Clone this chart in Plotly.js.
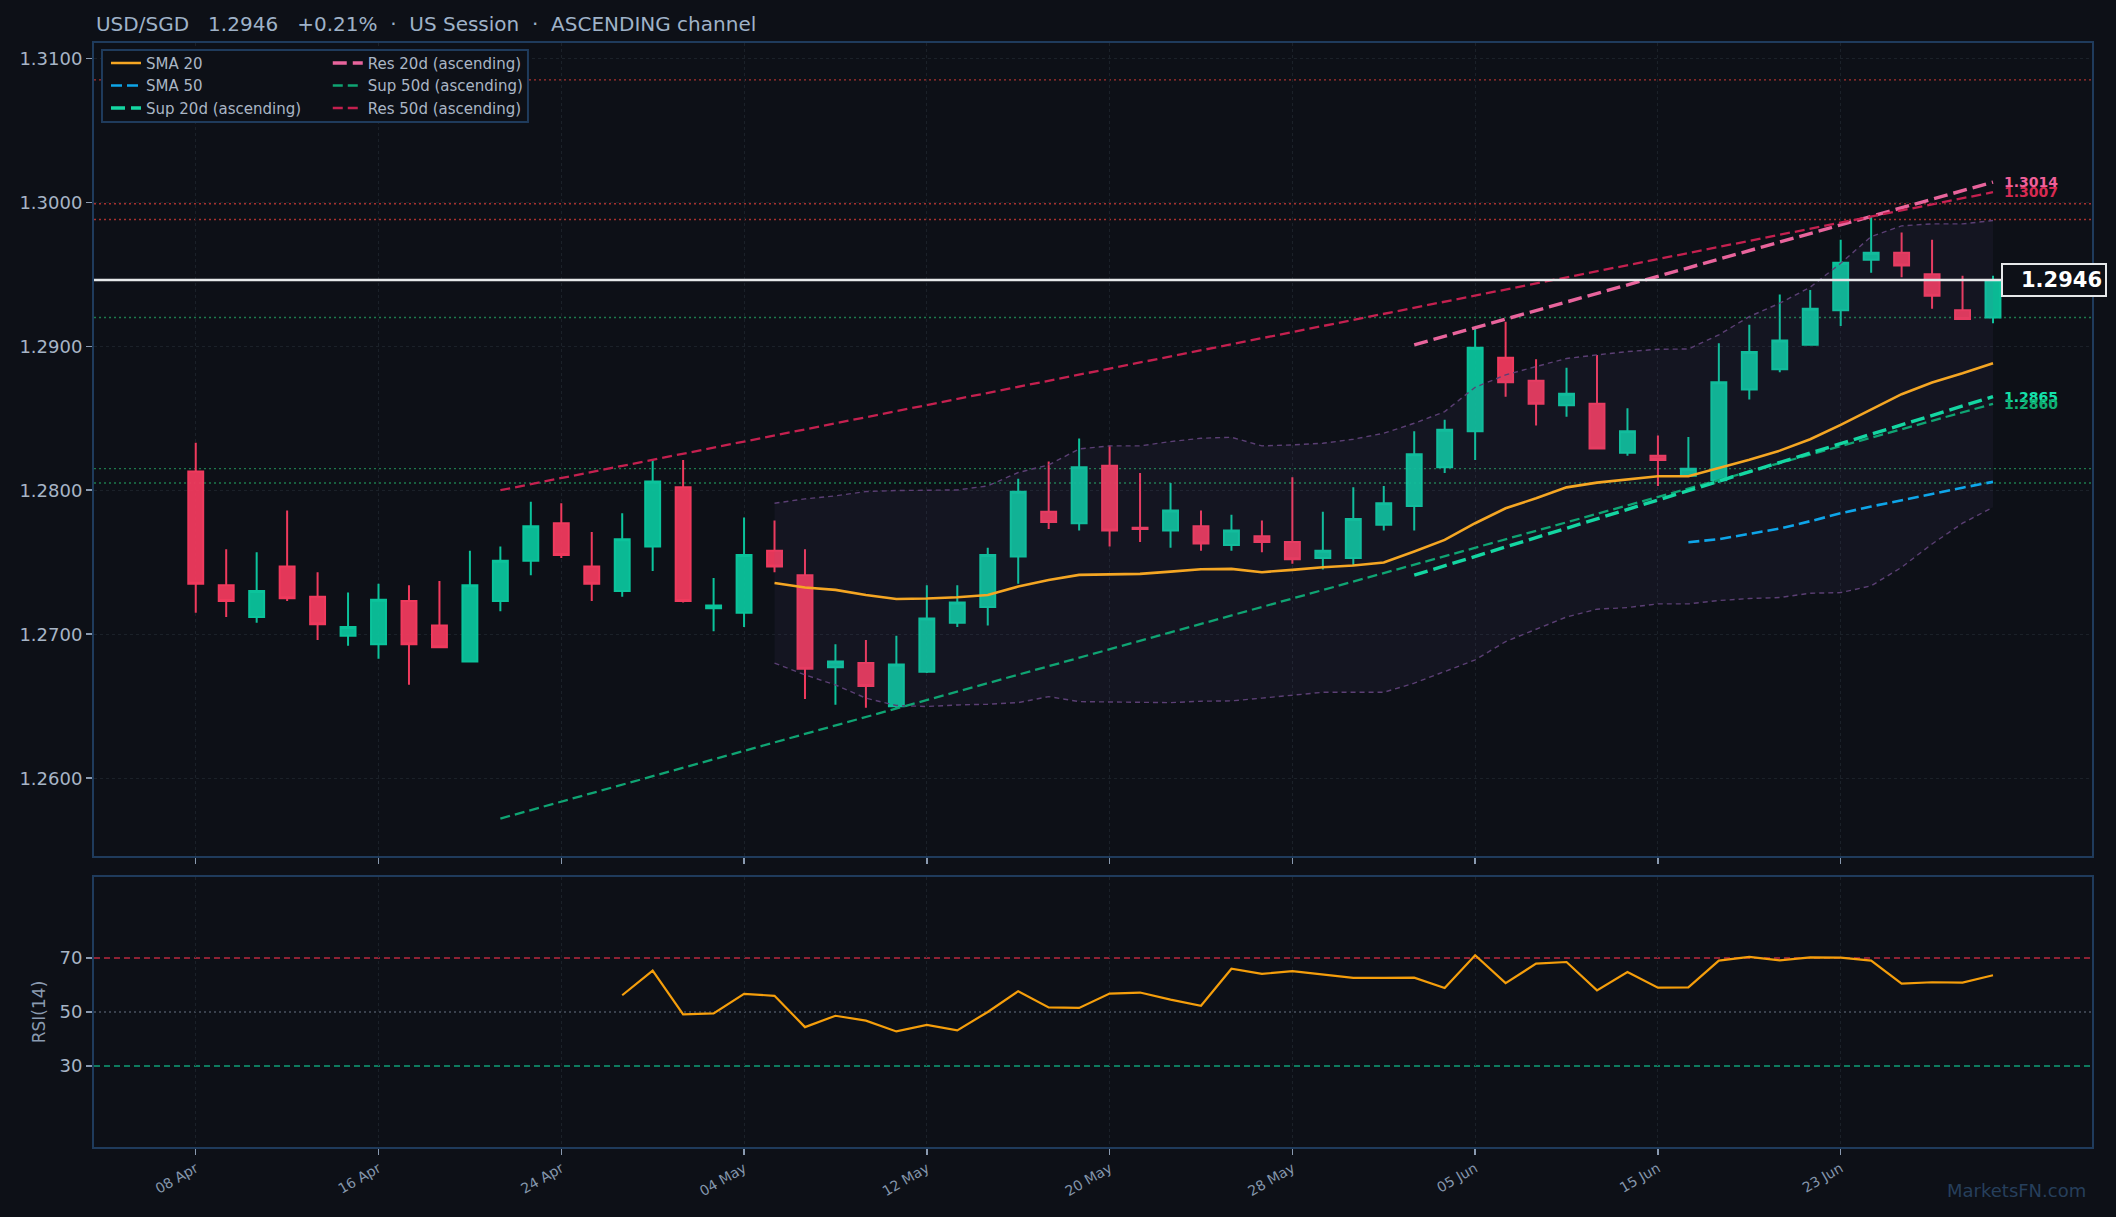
<!DOCTYPE html>
<html><head><meta charset="utf-8">
<script src="https://cdn.plot.ly/plotly-3.0.1.min.js"></script>
<style>html,body{margin:0;padding:0;background:#0d1017;}#chart{width:2116px;height:1217px;}</style>
</head><body><div id="chart"></div>
<script>
// ---------- DATA ----------
const dates = ["08 Apr","09 Apr","10 Apr","11 Apr","12 Apr","15 Apr","16 Apr","17 Apr","18 Apr","19 Apr",
"22 Apr","23 Apr","24 Apr","25 Apr","26 Apr","29 Apr","30 Apr","02 May","04 May","06 May",
"07 May","08 May","09 May","10 May","12 May","13 May","14 May","15 May","16 May","17 May",
"20 May","21 May","22 May","23 May","24 May","27 May","28 May","29 May","30 May","31 May",
"03 Jun","04 Jun","05 Jun","07 Jun","10 Jun","11 Jun","12 Jun","13 Jun","15 Jun","16 Jun",
"17 Jun","18 Jun","19 Jun","20 Jun","23 Jun","24 Jun","25 Jun","26 Jun","27 Jun","30 Jun"];

const openP  = [1.2813,1.2734,1.2712,1.2747,1.2726,1.2699,1.2693,1.2723,1.2706,1.2681,
1.2723,1.2751,1.2777,1.2747,1.2730,1.2761,1.2802,1.2718,1.2715,1.2758,
1.2741,1.2677,1.2680,1.2650,1.2674,1.2708,1.2719,1.2754,1.2785,1.2777,
1.2817,1.2774,1.2772,1.2775,1.2762,1.2768,1.2764,1.2753,1.2753,1.2776,
1.2789,1.2816,1.2841,1.2892,1.2876,1.2859,1.2860,1.2826,1.2824,1.2810,
1.2807,1.2870,1.2884,1.2901,1.2925,1.2960,1.2965,1.2950,1.2925,1.2920];
const highP  = [1.2833,1.2759,1.2757,1.2786,1.2743,1.2729,1.2735,1.2734,1.2737,1.2758,
1.2761,1.2792,1.2791,1.2771,1.2784,1.2821,1.2821,1.2739,1.2781,1.2779,
1.2759,1.2693,1.2696,1.2699,1.2734,1.2734,1.2760,1.2808,1.2820,1.2836,
1.2831,1.2812,1.2805,1.2786,1.2783,1.2779,1.2809,1.2785,1.2802,1.2803,
1.2841,1.2849,1.2913,1.2917,1.2891,1.2885,1.2894,1.2857,1.2838,1.2837,
1.2902,1.2915,1.2936,1.2939,1.2974,1.2990,1.2979,1.2974,1.2949,1.2949];
const lowP   = [1.2715,1.2712,1.2708,1.2723,1.2696,1.2692,1.2683,1.2665,1.2691,1.2681,
1.2716,1.2741,1.2753,1.2723,1.2726,1.2744,1.2722,1.2702,1.2705,1.2743,
1.2655,1.2651,1.2649,1.2648,1.2673,1.2705,1.2706,1.2735,1.2773,1.2772,
1.2761,1.2764,1.2760,1.2758,1.2758,1.2757,1.2749,1.2745,1.2748,1.2772,
1.2772,1.2812,1.2821,1.2865,1.2845,1.2851,1.2829,1.2824,1.2803,1.2810,
1.2805,1.2863,1.2882,1.2901,1.2914,1.2951,1.2948,1.2926,1.2919,1.2916];
const closeP = [1.2735,1.2723,1.2730,1.2725,1.2707,1.2705,1.2724,1.2693,1.2691,1.2734,
1.2751,1.2775,1.2755,1.2735,1.2766,1.2806,1.2723,1.2720,1.2755,1.2747,
1.2676,1.2681,1.2664,1.2679,1.2711,1.2722,1.2755,1.2799,1.2778,1.2816,
1.2772,1.2773,1.2786,1.2763,1.2772,1.2764,1.2752,1.2758,1.2780,1.2791,
1.2825,1.2842,1.2899,1.2875,1.2860,1.2867,1.2829,1.2841,1.2821,1.2815,
1.2875,1.2896,1.2904,1.2926,1.2958,1.2965,1.2956,1.2935,1.2919,1.2946];

const sma20Start = 19;
const sma20 = [1.27356,1.27324,1.27308,1.27273,1.27245,1.27248,1.27257,1.27273,1.27331,1.27377,
1.27412,1.27417,1.27419,1.27435,1.27451,1.27454,1.27431,1.27447,1.27465,1.27477,
1.27498,1.27574,1.27655,1.27771,1.27875,1.27944,1.28020,1.28053,1.28076,1.28097,
1.28097,1.28153,1.28211,1.28275,1.28354,1.28454,1.28562,1.28667,1.28748,1.28812,1.28882];
const bbStart = 19;
const bbUpper = [1.27910,1.27940,1.27961,1.27991,1.27998,1.28000,1.28002,1.28030,1.28123,1.28176,
1.28287,1.28308,1.28308,1.28338,1.28361,1.28368,1.28308,1.28315,1.28326,1.28354,
1.28396,1.28465,1.28546,1.28715,1.28801,1.28859,1.28915,1.28940,1.28963,1.28979,
1.28981,1.29079,1.29206,1.29299,1.29410,1.29576,1.29762,1.29836,1.29850,1.29850,1.29873];
const bbLower = [1.26799,1.26718,1.26648,1.26556,1.26505,1.26498,1.26509,1.26514,1.26525,1.26567,
1.26532,1.26530,1.26530,1.26525,1.26535,1.26537,1.26556,1.26576,1.26597,1.26597,
1.26597,1.26660,1.26741,1.26822,1.26949,1.27035,1.27120,1.27174,1.27185,1.27211,
1.27211,1.27234,1.27248,1.27255,1.27285,1.27289,1.27336,1.27465,1.27627,1.27771,1.27882];
const sma50Start = 49;
const sma50 = [1.27639,1.27660,1.27697,1.27734,1.27785,1.27840,1.27887,1.27933,1.27974,1.28018,1.28058];

const res50Idx = [10, 59], res50Val = [1.2800, 1.3007];
const sup50Idx = [10, 59], sup50Val = [1.2572, 1.2860];
const res20Idx = [40, 59], res20Val = [1.2901, 1.3014];
const sup20Idx = [40, 59], sup20Val = [1.2741, 1.2865];

const resistLevels = [1.3085, 1.2999, 1.2988];
const supportLevels = [1.2920, 1.2815, 1.2805];
const lastPrice = 1.2946;

const rsiStart = 14;
const rsi = [56.2,65.3,49.1,49.5,56.7,56.0,44.4,48.6,46.8,42.8,
45.2,43.2,50.0,57.7,51.7,51.5,56.8,57.2,54.6,52.3,
66.0,64.1,65.1,63.8,62.6,62.6,62.7,58.9,71.0,60.7,
67.9,68.5,58.0,64.8,59.0,59.1,69.0,70.4,69.1,70.2,
70.1,69.0,60.5,61.0,60.9,63.6];
const rsiLevels = [70, 50, 30];

const priceTicks = [1.26, 1.27, 1.28, 1.29, 1.30, 1.31];
const dateTicks = dates.filter((d, i) => i % 6 === 0);
const titleText = "USD/SGD\u00A0\u00A0\u00A01.2946\u00A0\u00A0\u00A0+0.21%\u00A0\u00A0·\u00A0\u00A0US Session\u00A0\u00A0·\u00A0\u00A0ASCENDING channel";

// ---------- BUILD ----------
const FONT = "DejaVu Sans, Liberation Sans, sans-serif";
const BG = "#0d1017";
const seg = (start, arr) => dates.slice(start, start + arr.length);
const idx = a => a.map(i => dates[i]);

const traces = [];
traces.push({
  type: "candlestick", x: dates, open: openP, high: highP, low: lowP, close: closeP,
  xaxis: "x", yaxis: "y", whiskerwidth: 0, showlegend: false, hoverinfo: "skip",
  increasing: {line: {color: "#0bc39b", width: 2}, fillcolor: "rgba(11,195,155,0.95)"},
  decreasing: {line: {color: "#ef3a5d", width: 2}, fillcolor: "rgba(239,58,93,0.95)"}
});
traces.push({type: "scatter", mode: "lines", x: seg(bbStart, bbUpper), y: bbUpper, showlegend: false,
  line: {color: "#5b3f74", width: 1.4, dash: "5px,4px"}, hoverinfo: "skip"});
traces.push({type: "scatter", mode: "lines", x: seg(bbStart, bbLower), y: bbLower, showlegend: false,
  fill: "tonexty", fillcolor: "rgba(120,100,175,0.07)",
  line: {color: "#5b3f74", width: 1.4, dash: "5px,4px"}, hoverinfo: "skip"});
traces.push({type: "scatter", mode: "lines", name: "SMA 20", legend: "legend", x: seg(sma20Start, sma20), y: sma20,
  line: {color: "#f5a623", width: 2.6}});
traces.push({type: "scatter", mode: "lines", name: "SMA 50", legend: "legend", x: seg(sma50Start, sma50), y: sma50,
  line: {color: "#0ea5e9", width: 2.6, dash: "11px,5px"}});
traces.push({type: "scatter", mode: "lines", name: "Res 20d (ascending)", legend: "legend2", x: idx(res20Idx), y: res20Val,
  line: {color: "#e8649c", width: 3.4, dash: "14px,6px"}});
traces.push({type: "scatter", mode: "lines", name: "Sup 50d (ascending)", legend: "legend2", x: idx(sup50Idx), y: sup50Val,
  line: {color: "#0fa473", width: 2.3, dash: "10px,5px"}});
traces.push({type: "scatter", mode: "lines", name: "Res 50d (ascending)", legend: "legend2", x: idx(res50Idx), y: res50Val,
  line: {color: "#c4204f", width: 2.3, dash: "10px,5px"}});
traces.push({type: "scatter", mode: "lines", name: "Sup 20d (ascending)", legend: "legend", x: idx(sup20Idx), y: sup20Val,
  line: {color: "#14d6a2", width: 3.4, dash: "14px,6px"}});
traces.push({type: "scatter", mode: "lines", x: seg(rsiStart, rsi), y: rsi, xaxis: "x2", yaxis: "y2", showlegend: false,
  line: {color: "#f59e0b", width: 2.2}, hoverinfo: "skip"});

const shapes = [];
resistLevels.forEach(v => shapes.push({type: "line", xref: "paper", x0: 0, x1: 1, yref: "y", y0: v, y1: v,
  layer: "below", line: {color: "#a8302f", width: 1.4, dash: "2px,3px"}}));
supportLevels.forEach(v => shapes.push({type: "line", xref: "paper", x0: 0, x1: 1, yref: "y", y0: v, y1: v,
  layer: "below", line: {color: "#1d7a4c", width: 1.4, dash: "2px,3px"}}));
shapes.push({type: "line", xref: "paper", x0: 0, x1: 1, yref: "y", y0: lastPrice, y1: lastPrice,
  layer: "above", line: {color: "#e6e8ea", width: 2.6}});
const rsiColors = ["#b8283f", "#4a5260", "#0e9f78"];
const rsiDash = ["6px,4px", "2px,3px", "6px,4px"];
rsiLevels.forEach((v, i) => shapes.push({type: "line", xref: "paper", x0: 0, x1: 1, yref: "y2", y0: v, y1: v,
  layer: "below", line: {color: rsiColors[i], width: 1.5, dash: rsiDash[i]}}));
// legend box
shapes.push({type: "rect", xref: "paper", yref: "paper", x0: 0.004, x1: 0.2172, y0: 0.9284, y1: 0.9937,
  layer: "above", fillcolor: BG, line: {color: "#1f3b5c", width: 2}});

const annotations = [
  {xref: "paper", x: 0.9545, xanchor: "left", yref: "y", y: lastPrice, yanchor: "middle",
   text: "<b>" + lastPrice.toFixed(4) + "</b>", showarrow: false, font: {family: FONT, size: 21, color: "#ffffff"},
   bgcolor: BG, bordercolor: "#e6e8ea", borderwidth: 2, borderpad: 3, width: 96, align: "right"},
  {xref: "paper", x: 0.955, xanchor: "left", yref: "y", y: res20Val[1], yanchor: "middle", showarrow: false,
   text: "<b>" + res20Val[1].toFixed(4) + "</b>", font: {family: FONT, size: 14, color: "#f0609a"}},
  {xref: "paper", x: 0.955, xanchor: "left", yref: "y", y: res50Val[1], yanchor: "middle", showarrow: false,
   text: "<b>" + res50Val[1].toFixed(4) + "</b>", font: {family: FONT, size: 14, color: "#d62a52"}},
  {xref: "paper", x: 0.955, xanchor: "left", yref: "y", y: sup20Val[1], yanchor: "middle", showarrow: false,
   text: "<b>" + sup20Val[1].toFixed(4) + "</b>", font: {family: FONT, size: 14, color: "#14e0aa"}},
  {xref: "paper", x: 0.955, xanchor: "left", yref: "y", y: sup50Val[1], yanchor: "middle", showarrow: false,
   text: "<b>" + sup50Val[1].toFixed(4) + "</b>", font: {family: FONT, size: 14, color: "#10b074"}},
  {xref: "paper", x: 0.998, xanchor: "right", yref: "paper", y: -0.039, yanchor: "middle", showarrow: false,
   text: "MarketsFN.com", font: {family: FONT, size: 18, color: "#263f5c"}}
];

const axisCommon = {
  showline: true, mirror: true, linecolor: "#1f3b5c", linewidth: 2, zeroline: false,
  ticks: "outside", ticklen: 6, tickwidth: 1.5, tickcolor: "#8a9ab0",
  showgrid: true, gridcolor: "#1b2129", griddash: "dot", gridwidth: 1
};
const xRange = [-3.34, 62.25];

const layout = {
  width: 2116, height: 1217, paper_bgcolor: BG, plot_bgcolor: BG,
  margin: {l: 94, r: 24, t: 43, b: 70},
  font: {family: FONT, color: "#a7b5c6"},
  title: {text: titleText, font: {family: FONT, size: 20, color: "#9fb2c8"},
    xref: "paper", x: 0.001, xanchor: "left", yref: "container", y: 0.9803, yanchor: "middle"},
  showlegend: true,
  legend: {x: 0.006, y: 0.9966, xanchor: "left", yanchor: "top", bgcolor: "rgba(0,0,0,0)", borderwidth: 0,
    traceorder: "normal", font: {family: FONT, size: 15, color: "#aab6c5"}, tracegroupgap: 0},
  legend2: {x: 0.117, y: 0.9966, xanchor: "left", yanchor: "top", bgcolor: "rgba(0,0,0,0)", borderwidth: 0,
    traceorder: "normal", font: {family: FONT, size: 15, color: "#aab6c5"}, tracegroupgap: 0},
  xaxis: Object.assign({}, axisCommon, {type: "category", anchor: "y", range: xRange, tickmode: "array",
    tickvals: dateTicks, showticklabels: false, rangeslider: {visible: false}}),
  xaxis2: Object.assign({}, axisCommon, {type: "category", anchor: "y2", matches: "x", range: xRange, tickmode: "array",
    tickvals: dateTicks, ticktext: dateTicks, tickangle: -30, tickfont: {family: FONT, size: 14, color: "#8496ac"}}),
  yaxis: Object.assign({}, axisCommon, {domain: [0.2636, 1], range: [1.2546, 1.31106], tickmode: "array",
    tickvals: priceTicks, tickformat: ".4f", tickfont: {family: FONT, size: 18, color: "#a7b5c6"}}),
  yaxis2: Object.assign({}, axisCommon, {domain: [0, 0.2446], range: [0, 100], tickmode: "array",
    tickvals: [30, 50, 70], showgrid: false, tickfont: {family: FONT, size: 18, color: "#a7b5c6"},
    title: {text: "RSI(14)", font: {family: FONT, size: 17, color: "#8a9bb0"}, standoff: 10}}),
  shapes: shapes, annotations: annotations
};

Plotly.newPlot("chart", traces, layout, {staticPlot: true, displayModeBar: false});
</script></body></html>
